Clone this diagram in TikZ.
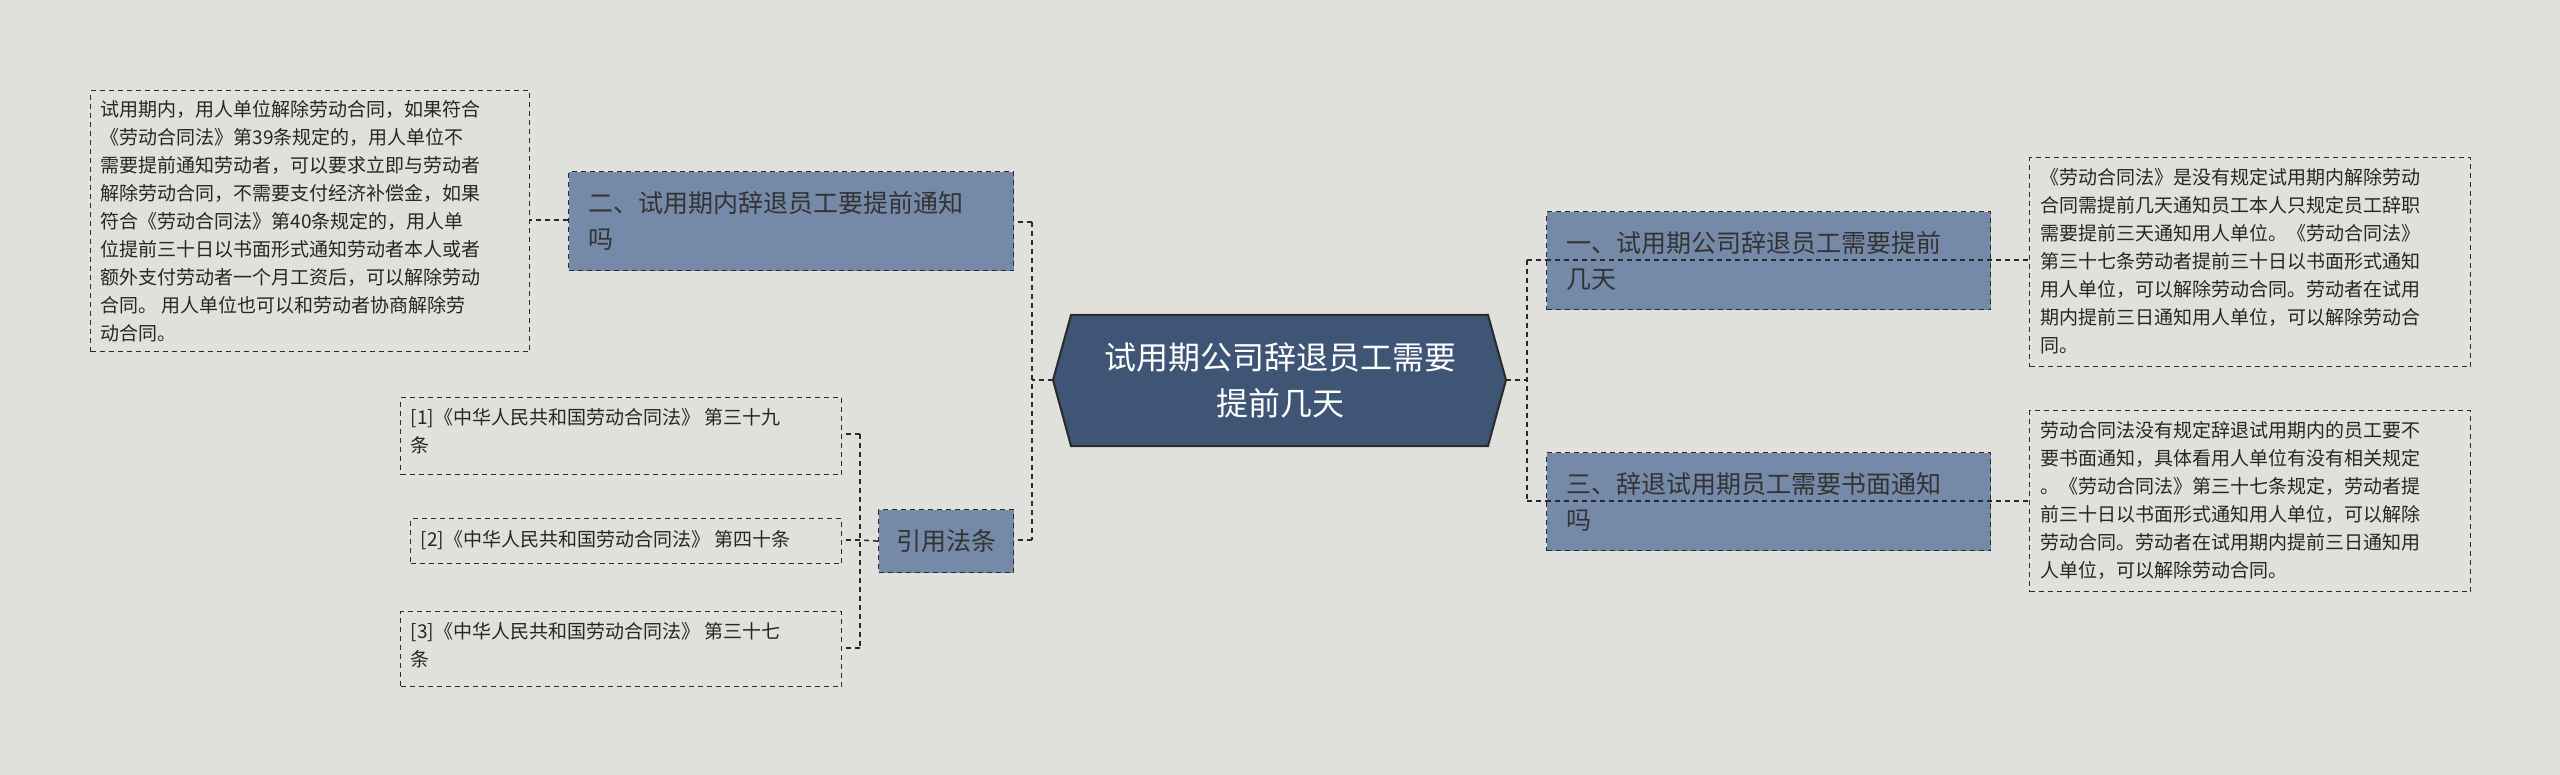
\documentclass[tikz,border=0pt]{standalone}
\usepackage{fontspec}
\newfontfamily\cjk{Noto Sans CJK SC}
\definecolor{bg}{HTML}{E0E1DC}
\definecolor{hexc}{HTML}{3E5575}
\definecolor{brc}{HTML}{7589A8}
\definecolor{ln}{HTML}{2A2A2A}
\begin{document}
\begin{tikzpicture}[x=1pt,y=-1pt,
 txt/.style={draw=ln,dashed,line width=1.3pt,dash pattern=on 5pt off 4pt,inner sep=0pt,font=\cjk\fontsize{19}{28}\selectfont,text=black!85,align=left,anchor=north west},
 br/.style={draw=ln,fill=brc,dash pattern=on 5pt off 4pt,line width=1.3pt,inner sep=0pt,font=\cjk\fontsize{25}{36}\selectfont,text=black!80,align=left,anchor=north west},
 con/.style={draw=ln,line width=1.5pt,dash pattern=on 5pt off 4pt}]
\fill[bg] (0,0) rectangle (2560,775);
\useasboundingbox (0,0) rectangle (2560,775);
% center
\filldraw[fill=hexc,draw=ln,line width=2pt] (1053,380)--(1071,315)--(1488,315)--(1506,380)--(1488,446)--(1071,446)--cycle;
\node[font=\cjk\fontsize{32}{46}\selectfont,text=white,align=center] (c) at (1280,380) {试用期公司辞退员工需要\\提前几天};
\coordinate (cl) at (1053,380); \coordinate (cr) at (1506,380);
% branches
\node[br,minimum width=445,minimum height=99,text width=425] (b2) at (568,171) {\hspace*{10pt}二、试用期内辞退员工要提前通知\\\hspace*{10pt}吗};
\node[br,minimum width=135,minimum height=63] (b4) at (878,509) {};
\node[font=\cjk\fontsize{25}{30}\selectfont,text=black!80] at (b4.center) {引用法条};
\node[br,minimum width=444,minimum height=98,text width=425] (b1) at (1546,211) {\hspace*{10pt}一、试用期公司辞退员工需要提前\\\hspace*{10pt}几天};
\node[br,minimum width=444,minimum height=98,text width=425] (b3) at (1546,452) {\hspace*{10pt}三、辞退试用期员工需要书面通知\\\hspace*{10pt}吗};
% texts
\node[txt,minimum width=439,minimum height=261] (t2) at (90,90) {};
\node[txt,draw=none,anchor=north west] at (100,100) {试用期内，用人单位解除劳动合同，如果符合\\《劳动合同法》第39条规定的，用人单位不\\需要提前通知劳动者，可以要求立即与劳动者\\解除劳动合同，不需要支付经济补偿金，如果\\符合《劳动合同法》第40条规定的，用人单\\位提前三十日以书面形式通知劳动者本人或者\\额外支付劳动者一个月工资后，可以解除劳动\\合同。 用人单位也可以和劳动者协商解除劳\\动合同。};
\node[txt,minimum width=441,minimum height=209] (t1) at (2029,157) {};
\node[txt,draw=none] at (2040,168) {《劳动合同法》是没有规定试用期内解除劳动\\合同需提前几天通知员工本人只规定员工辞职\\需要提前三天通知用人单位。《劳动合同法》\\第三十七条劳动者提前三十日以书面形式通知\\用人单位，可以解除劳动合同。劳动者在试用\\期内提前三日通知用人单位，可以解除劳动合\\同。};
\node[txt,minimum width=441,minimum height=181] (t3) at (2029,410) {};
\node[txt,draw=none] at (2040,421) {劳动合同法没有规定辞退试用期内的员工要不\\要书面通知，具体看用人单位有没有相关规定\\。《劳动合同法》第三十七条规定，劳动者提\\前三十日以书面形式通知用人单位，可以解除\\劳动合同。劳动者在试用期内提前三日通知用\\人单位，可以解除劳动合同。};
\node[txt,minimum width=441,minimum height=77] (r1) at (400,397) {};
\node[txt,draw=none] at (410,408) {[1]《中华人民共和国劳动合同法》 第三十九\\条};
\node[txt,minimum width=431,minimum height=45] (r2) at (410,518) {};
\node[txt,draw=none,anchor=west] at (420,540) {[2]《中华人民共和国劳动合同法》 第四十条};
\node[txt,minimum width=441,minimum height=75] (r3) at (400,611) {};
\node[txt,draw=none] at (410,622) {[3]《中华人民共和国劳动合同法》 第三十七\\条};
% connectors
\path[con] (cl) -- (1032,380);
\path[con] (1032,222) -- (1032,540);
\path[con] (1032,222) -- (b2.east|-1032,222);
\path[con] (1032,540) -- (b4.east|-1032,540);
\path[con] (cr) -- (1527,380);
\path[con] (1527,260) -- (1527,501);
\path[con] (1527,260) -- (b1.west|-1527,260);
\path[con] (1527,501) -- (b3.west|-1527,501);
\path[con] (b2.west|-0,220) -- (t2.east|-0,220);
\path[con] (b1.west|-0,260) -- (t1.west|-0,260);
\path[con] (b3.west|-0,501) -- (t3.west|-0,501);
\path[con] (b4.west) -- (860,540);
\path[con] (860,434) -- (860,648);
\path[con] (860,434) -- (r1.east|-0,434);
\path[con] (860,540) -- (r2.east|-0,540);
\path[con] (860,648) -- (r3.east|-0,648);
\end{tikzpicture}
\end{document}
